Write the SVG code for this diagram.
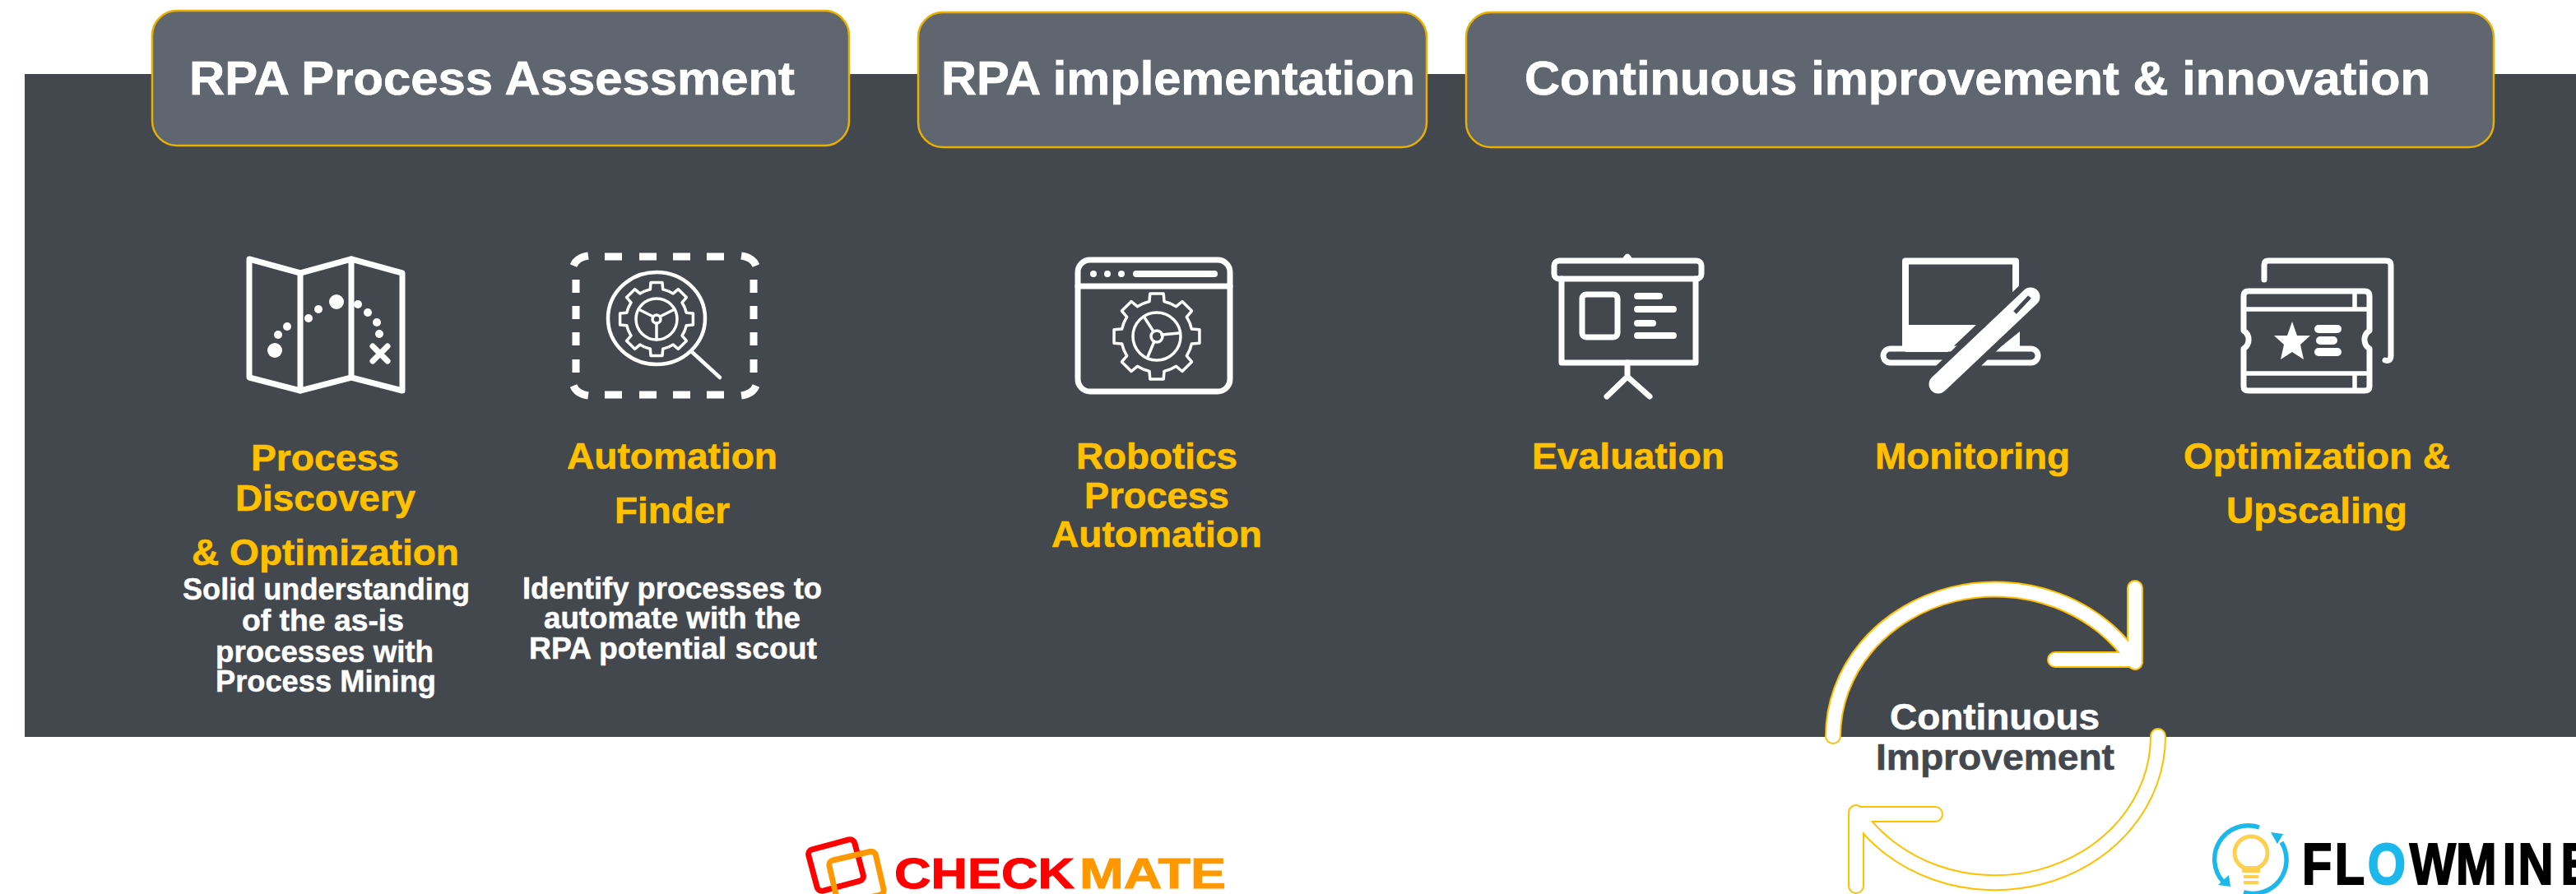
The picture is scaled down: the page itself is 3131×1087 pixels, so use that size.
<svg xmlns="http://www.w3.org/2000/svg" xmlns:xlink="http://www.w3.org/1999/xlink" width="3131" height="1087" viewBox="0 0 3131 1087">
<style>
text{font-family:"Liberation Sans",Arial,sans-serif;font-weight:700;text-anchor:start}
.hd{fill:#fff;font-size:58px;stroke:#fff;stroke-width:.7}
.hb{fill:#60666f;stroke:#e9b000;stroke-width:2.5}
.or{fill:#ffc000;font-size:44px;stroke:#ffc000;stroke-width:.6}
.wh{fill:#fff;font-size:37px;stroke:#fff;stroke-width:.5}
.ic{fill:none;stroke:#fff;stroke-width:7;stroke-linecap:round;stroke-linejoin:round}
.th{stroke-width:3.5}
.sq{stroke-linecap:butt;stroke-width:9}
.f{fill:#fff;stroke:none}
.ao{fill:none;stroke:#ffc000;stroke-width:20;stroke-linecap:round;stroke-linejoin:round}
.ai{fill:none;stroke:#fff;stroke-width:16;stroke-linecap:round;stroke-linejoin:round}
</style>
<defs>
<g id="gear" fill="none" stroke="#fff" stroke-linejoin="round">
<path id="tooth" d="M-14.2-34.2L-7.7-36.2L-7-44.4L7-44.4L7.7-36.2L14.2-34.2"/>
<use xlink:href="#tooth" href="#tooth" transform="rotate(45)"/>
<use xlink:href="#tooth" href="#tooth" transform="rotate(90)"/>
<use xlink:href="#tooth" href="#tooth" transform="rotate(135)"/>
<use xlink:href="#tooth" href="#tooth" transform="rotate(180)"/>
<use xlink:href="#tooth" href="#tooth" transform="rotate(225)"/>
<use xlink:href="#tooth" href="#tooth" transform="rotate(270)"/>
<use xlink:href="#tooth" href="#tooth" transform="rotate(315)"/>
</g>
</defs>
<rect width="3131" height="1087" fill="#fff"/>
<rect id="band" x="30" y="90" width="3101" height="806" fill="#43474e"/>

<g id="header-assessment"><rect class="hb" x="185" y="13" width="847" height="164" rx="30"/><text class="hd" x="230" y="115" textLength="736" lengthAdjust="spacingAndGlyphs">RPA Process Assessment</text></g>
<g id="header-implementation"><rect class="hb" x="1116" y="15" width="618" height="164" rx="30"/><text class="hd" x="1144" y="115" textLength="576" lengthAdjust="spacingAndGlyphs">RPA implementation</text></g>
<g id="header-improvement"><rect class="hb" x="1782" y="15" width="1249" height="164" rx="30"/><text class="hd" x="1853" y="115" textLength="1101" lengthAdjust="spacingAndGlyphs">Continuous improvement &amp; innovation</text></g>

<g id="node-process-discovery">
<g class="ic"><path d="M303 315L365 332L427 315L489 332V475L427 459L365 475L303 459Z"/><path d="M365 332V475M427 315V459"/><path d="M453 421L471 439M471 421L453 439" stroke-width="7"/></g>
<g class="f"><circle cx="334" cy="426" r="9"/><circle cx="409" cy="367" r="9"/><circle cx="338" cy="407" r="5"/><circle cx="349" cy="397" r="5"/><circle cx="375" cy="387" r="5"/><circle cx="387" cy="376" r="5"/><circle cx="435" cy="370" r="5"/><circle cx="447" cy="380" r="5"/><circle cx="458" cy="392" r="5"/><circle cx="461" cy="406" r="5"/></g>
<text class="or" x="305" y="572" textLength="180" lengthAdjust="spacingAndGlyphs">Process</text>
<text class="or" x="286" y="621" textLength="219" lengthAdjust="spacingAndGlyphs">Discovery</text>
<text class="or" x="233" y="687" textLength="325" lengthAdjust="spacingAndGlyphs">&amp; Optimization</text>
<text class="wh" x="222" y="729" textLength="349" lengthAdjust="spacingAndGlyphs">Solid understanding</text>
<text class="wh" x="294" y="767" textLength="197" lengthAdjust="spacingAndGlyphs">of the as-is</text>
<text class="wh" x="262" y="805" textLength="265" lengthAdjust="spacingAndGlyphs">processes with</text>
<text class="wh" x="262" y="841" textLength="268" lengthAdjust="spacingAndGlyphs">Process Mining</text>
</g>

<g id="node-automation-finder">
<g class="ic sq">
<path d="M735 312H756M777 312H798M818 312H839M859 312H880M735 480H756M777 480H798M818 480H839M859 480H880M700 340V356M700 372V388M700 404V420M700 437V453M916 340V356M916 372V388M916 404V420M916 437V453"/>
<path d="M715 311Q701 313 697 323M901 311Q915 313 919 323M715 481Q701 479 697 469M901 481Q915 479 919 469"/>
</g>
<g class="ic"><ellipse cx="798" cy="387" rx="59" ry="56" stroke-width="4.5"/><path d="M840 427L875 459" stroke-width="4.5"/></g>
<use xlink:href="#gear" href="#gear" transform="translate(798 388)" stroke-width="3.5"/>
<g class="ic th"><circle cx="798" cy="388" r="25"/><circle cx="798" cy="388" r="5"/><path d="M798 393V413M794 385L776 376M802 385L820 376"/></g>
<text class="or" x="689" y="570" textLength="256" lengthAdjust="spacingAndGlyphs">Automation</text>
<text class="or" x="747" y="636" textLength="140" lengthAdjust="spacingAndGlyphs">Finder</text>
<text class="wh" x="635" y="728" textLength="364" lengthAdjust="spacingAndGlyphs">Identify processes to</text>
<text class="wh" x="661" y="764" textLength="312" lengthAdjust="spacingAndGlyphs">automate with the</text>
<text class="wh" x="643" y="801" textLength="350" lengthAdjust="spacingAndGlyphs">RPA potential scout</text>
</g>

<g id="node-rpa">
<g class="ic"><rect x="1310" y="316" width="185" height="160" rx="15"/><path d="M1310 348H1495"/><path d="M1381 333H1476" stroke-width="8"/></g>
<g class="f"><circle cx="1329" cy="333" r="4"/><circle cx="1346" cy="333" r="4"/><circle cx="1363" cy="333" r="4"/></g>
<use xlink:href="#gear" href="#gear" transform="translate(1406 409) scale(1.17)" stroke-width="3"/>
<g class="ic th"><circle cx="1406" cy="409" r="29"/><circle cx="1406" cy="409" r="7"/><path d="M1412 407L1433 405M1402 403L1391 386M1403 415L1395 434"/></g>
<text class="or" x="1308" y="570" textLength="196" lengthAdjust="spacingAndGlyphs">Robotics</text>
<text class="or" x="1318" y="618" textLength="176" lengthAdjust="spacingAndGlyphs">Process</text>
<text class="or" x="1278" y="665" textLength="256" lengthAdjust="spacingAndGlyphs">Automation</text>
</g>

<g id="node-evaluation">
<g class="ic"><rect x="1889" y="317" width="179" height="22" rx="6"/><path d="M1898 339V441H2061V339"/><rect x="1923" y="358" width="43" height="52" rx="5"/><path d="M1990 360H2017M1990 376H2034M1990 393H2009M1990 408H2034" stroke-width="8"/><path d="M1978 441V458L1953 482M1978 458L2005 482"/></g>
<path class="f" d="M1971 317Q1978 300 1985 317Z"/>
<text class="or" x="1862" y="570" textLength="234" lengthAdjust="spacingAndGlyphs">Evaluation</text>
</g>

<g id="node-monitoring">
<g class="ic"><path d="M2316 424V317.500H2450V360" stroke-width="8" stroke-linecap="butt"/><rect x="2289" y="424" width="188" height="17" rx="8.500" stroke-width="7"/></g>
<path class="f" d="M2316 395H2402L2367 428H2316ZM2455 403V424H2429Z"/>
<path d="M2342 482L2482 347" stroke="#43474e" stroke-width="38" fill="none"/>
<path d="M2356 467L2468 361" stroke="#fff" stroke-width="23" stroke-linecap="round" fill="none"/>
<path d="M2449 380L2467 361" stroke="#43474e" stroke-width="5" fill="none"/>
<text class="or" x="2279" y="570" textLength="237" lengthAdjust="spacingAndGlyphs">Monitoring</text>
</g>

<g id="node-optimization">
<g class="ic"><path d="M2752 340V322Q2752 317 2757 317H2900Q2906 317 2906 322V432Q2906 440 2899 438"/>
<path d="M2727 402V360Q2727 354 2733 354H2874Q2880 354 2880 360V402A13 13 0 0 0 2880 424V470Q2880 475 2874 475H2733Q2727 475 2727 470V424A13 13 0 0 0 2727 402Z"/>
<path d="M2727 376H2880M2727 454H2880M2862 354V376M2862 454V475" stroke-width="5.500"/>
<path d="M2818 400H2841M2820 414H2836M2818 428H2841" stroke-width="10"/></g>
<path class="f" d="M2786 391L2792 408L2808 408L2796 419L2800 437L2786 428L2772 437L2776 419L2764 408L2780 408Z"/>
<text class="or" x="2654" y="570" textLength="324" lengthAdjust="spacingAndGlyphs">Optimization &amp;</text>
<text class="or" x="2706" y="636" textLength="220" lengthAdjust="spacingAndGlyphs">Upscaling</text>
</g>

<g id="connectors">
<path class="ao" d="M2228 895A197 179 0 0 1 2595 805M2595 715V802H2498"/>
<path class="ai" d="M2228 895A197 179 0 0 1 2595 805M2595 715V802H2498"/>
<path class="ao" d="M2623 895A198 178 0 0 1 2256 988M2256 1077V990H2352"/>
<path class="ai" d="M2623 895A198 178 0 0 1 2256 988M2256 1077V990H2352"/>
</g>
<g id="node-continuous">
<text x="2297" y="887" font-size="44" fill="#fff" stroke="#fff" stroke-width=".6" textLength="255" lengthAdjust="spacingAndGlyphs">Continuous</text>
<text x="2280" y="936" font-size="44" fill="#43474e" stroke="#43474e" stroke-width=".6" textLength="290" lengthAdjust="spacingAndGlyphs">Improvement</text>
</g>

<g id="logo-checkmate">
<rect x="987" y="1026" width="58" height="52" rx="6" fill="none" stroke="#f00" stroke-width="7" transform="rotate(-15 1016 1052)"/>
<rect x="1012" y="1040" width="58" height="54" rx="6" fill="none" stroke="#ff9800" stroke-width="7" transform="rotate(-13 1041 1067)"/>
<text x="1087" y="1080" font-size="52" fill="#f00" stroke="#f00" textLength="219" lengthAdjust="spacingAndGlyphs">CHECK</text>
<text x="1312" y="1080" font-size="52" fill="#ff9800" stroke="#ff9800" textLength="178" lengthAdjust="spacingAndGlyphs">MATE</text>
</g>

<g id="logo-flowminer">
<path d="M2746 1006A41 41 0 0 0 2702 1072M2773 1024A41 41 0 0 1 2727 1085" fill="none" stroke="#1cb8ec" stroke-width="5.500"/>
<path d="M2696 1076L2711 1078L2709 1064ZM2760 1012L2775 1014L2768 1026Z" fill="#1cb8ec"/>
<circle cx="2736" cy="1037" r="20" fill="none" stroke="#ffd050" stroke-width="5"/>
<path d="M2725 1055H2747M2725 1059H2747M2727 1066H2745M2727 1073H2745" stroke="#ffd050" stroke-width="4"/>
<text transform="translate(2803 1075) scale(.85 1)" x="-6 41 88 148 214 281 303 364" y="0" font-size="70" fill="#000" stroke="#000" stroke-width="2">FL<tspan fill="#1cb8ec" stroke="#1cb8ec">O</tspan>WMINE</text>
</g>
</svg>
